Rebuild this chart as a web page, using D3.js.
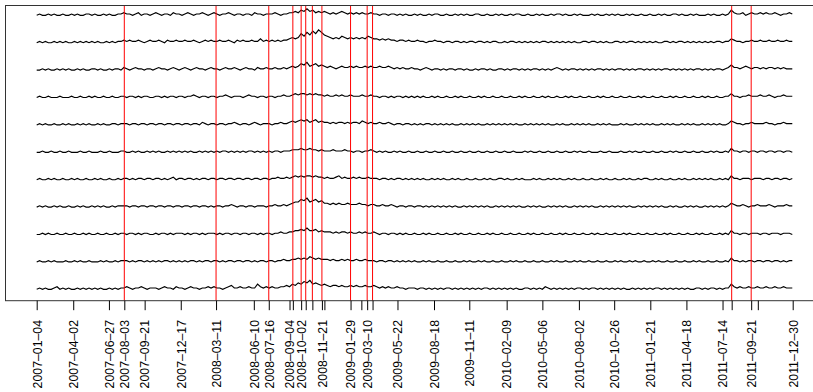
<!DOCTYPE html>
<html>
<head>
<meta charset="utf-8">
<script src="https://cdn.jsdelivr.net/npm/d3@7"></script>
<style>
  body { margin: 0; background: #fff; }
  svg { display: block; font-family: "Liberation Sans", Arial, sans-serif; }
</style>
</head>
<body>
<div id="chart"></div>
<script>
// weekly observations, first and last day of the sample
var startDate = "2007-01-04";
var endDate = "2011-12-30";

// event days (red vertical lines)
var eventDates = ["2007-08-03", "2008-03-11", "2008-07-16", "2008-09-12", "2008-10-02",
  "2008-10-13", "2008-10-29", "2008-11-21", "2009-01-29", "2009-03-10", "2009-03-23",
  "2011-08-05", "2011-09-21"];

// every tick on the axis, and the ones that got a label
var tickDates = ["2007-01-04", "2007-04-02", "2007-06-27", "2007-08-03", "2007-09-21",
  "2007-12-17", "2008-03-11", "2008-06-10", "2008-07-16", "2008-09-04", "2008-09-12",
  "2008-10-02", "2008-10-13", "2008-10-29", "2008-11-21", "2008-11-27", "2009-01-29",
  "2009-02-24", "2009-03-10", "2009-03-23", "2009-05-22", "2009-08-18", "2009-11-11",
  "2010-02-09", "2010-05-06", "2010-08-02", "2010-10-26", "2011-01-21", "2011-04-18",
  "2011-07-14", "2011-08-05", "2011-09-21", "2011-10-07", "2011-12-30"];
var tickLabels = ["2007-01-04", "2007-04-02", "2007-06-27", "2007-08-03", "2007-09-21",
  "2007-12-17", "2008-03-11", "2008-06-10", "2008-07-16", "2008-09-04", "2008-10-02",
  "2008-11-21", "2009-01-29", "2009-03-10", "2009-05-22", "2009-08-18", "2009-11-11",
  "2010-02-09", "2010-05-06", "2010-08-02", "2010-10-26", "2011-01-21", "2011-04-18",
  "2011-07-14", "2011-09-21", "2011-12-30"];

// series, top to bottom (weekly values, arbitrary units)
var s1 = [0,1,0,0,1,0,1,0,0,1, 0,0,1,0,1,0,0,1,1,0, 1,0,0,1,0,1,0,0,1,1, 2,1,1,0,1,2,0,1,1,0,
  1,2,1,0,1,1,0,2,1,1, 0,1,2,1,0,1,1,2,1,0, 1,2,1,0,1,1,2,1,0,1, 1,0,1,1,0,2,1,1,0,1,
  1,1,2,1,0,1,1,2,2,3, 2,4,3,5,3,4,2,3,2,3, 2,1,2,1,2,3,2,1,2,1, 2,1,2,1,1,2,1,1,0,1,
  1,0,1,1,0,1,0,1,0,0, 1,0,1,0,0,1,0,1,1,0, 0,1,0,0,1,0,1,0,1,0, 0,1,1,0,0,1,0,0,1,0,
  1,0,0,1,0,1,1,0,0,1, 0,0,1,0,1,0,0,1,0,1, 1,0,1,0,0,1,0,1,0,0, 0,1,0,1,0,0,1,0,1,0,
  1,0,0,1,0,1,0,0,1,0, 0,1,0,0,1,0,1,0,0,1, 1,0,1,0,0,1,0,1,0,0, 0,1,0,1,0,0,1,0,1,4,
  2,1,1,2,0,1,2,1,1,2, 1,2,1,1,2,1,0,1,1,2, 1];
var s2 = [0,1,0,1,0,0,1,0,1,0, 1,0,0,1,0,1,0,1,0,1, 0,1,0,0,1,0,1,0,1,1, 2,1,2,1,1,2,1,0,1,2,
  1,1,2,1,0,2,1,1,2,1, 1,2,1,1,2,1,0,1,2,1, 2,1,1,2,1,1,2,1,0,2, 1,2,1,1,2,1,1,3,1,2,
  1,2,1,2,1,2,2,3,4,3, 4,7,5,8,6,9,7,10,8,6, 5,4,3,4,3,5,4,3,4,3, 4,3,4,3,5,4,3,3,2,3,
  2,3,2,2,1,2,2,1,2,1, 1,2,1,1,0,1,1,2,1,1, 0,1,1,0,1,1,0,1,0,1, 1,0,1,1,0,1,0,1,1,0,
  0,1,0,1,1,0,1,0,1,0, 1,0,1,0,1,1,0,1,0,1, 0,1,0,1,0,1,0,0,1,1, 0,1,1,0,1,0,1,0,0,1,
  1,0,1,0,1,1,0,1,0,1, 0,1,0,1,0,0,1,1,0,1, 0,1,1,0,1,0,1,0,1,0, 1,0,1,0,1,1,0,1,1,3,
  2,1,1,0,1,1,2,1,1,2, 1,1,2,1,1,2,1,1,2,1, 1];
var s3 = [0,0,1,0,1,0,0,1,0,1, 0,1,0,0,1,0,1,0,0,1, 1,0,1,0,0,1,0,1,1,0, 2,1,0,1,2,1,1,0,1,1,
  0,1,2,1,1,0,1,2,1,0, 1,2,1,0,1,2,1,1,0,1, 2,1,1,0,1,2,1,1,2,1, 0,1,2,1,1,0,2,1,1,2,
  1,1,2,1,1,2,1,2,3,2, 3,5,4,6,3,4,5,3,4,3, 2,3,2,1,2,3,2,2,3,2, 3,2,2,3,2,3,2,2,3,2,
  2,3,2,1,2,1,2,1,1,2, 1,1,0,1,2,1,0,1,1,0, 1,0,1,1,0,1,1,0,1,0, 0,1,0,1,1,0,1,0,0,1,
  1,0,1,0,1,1,0,1,0,1, 0,1,1,0,1,0,1,0,1,2, 1,0,1,0,1,1,0,1,0,1, 0,1,0,1,1,0,1,0,1,0,
  1,1,0,1,0,1,0,1,1,0, 1,0,1,0,1,0,1,1,0,1, 0,1,0,1,0,1,0,1,1,0, 1,0,1,0,1,1,0,1,2,4,
  2,2,1,2,3,2,1,2,2,1, 2,1,2,2,1,2,1,2,1,1, 1];
var s4 = [0,1,0,0,1,0,0,0,1,0, 0,0,1,0,0,1,0,0,1,0, 1,0,0,1,0,0,1,0,0,1, 1,0,1,1,0,1,0,1,1,0,
  0,1,1,0,1,0,1,1,0,1, 1,0,1,1,2,1,0,1,1,0, 1,1,0,1,1,2,1,0,1,1, 1,0,1,2,1,1,0,1,1,0,
  1,1,0,1,1,2,1,1,2,3, 2,3,3,2,3,2,3,2,2,1, 2,1,1,2,1,2,1,1,2,1, 1,1,2,1,1,2,1,1,0,1,
  1,0,1,0,1,1,0,1,0,1, 0,1,0,1,0,0,1,0,1,0, 0,1,0,0,1,0,1,0,0,1, 0,0,1,0,1,0,0,1,0,0,
  1,0,0,1,0,0,1,0,1,0, 0,1,0,0,1,0,1,0,0,1, 0,0,1,0,1,0,0,1,0,0, 1,0,0,1,0,1,0,0,1,0,
  0,1,0,0,1,0,0,1,0,1, 0,0,1,0,0,1,0,0,1,0, 1,0,0,1,0,0,1,0,0,1, 0,1,0,0,1,0,0,1,1,3,
  1,1,0,1,1,2,1,1,1,2, 1,1,2,1,0,1,1,2,1,1, 1];
var s5 = [0,1,0,1,0,0,1,0,0,1, 0,1,0,0,1,0,1,0,1,0, 0,1,0,1,0,0,1,1,0,1, 1,1,0,1,1,0,1,1,0,1,
  1,0,1,1,0,1,1,0,1,1, 0,1,1,0,1,1,0,2,1,0, 1,1,0,1,1,0,1,1,2,1, 0,1,1,0,1,2,1,0,1,1,
  1,0,1,1,2,1,1,2,3,2, 3,4,3,4,2,3,4,2,3,2, 2,1,2,1,2,2,1,2,1,2, 2,1,3,2,1,2,1,1,2,1,
  1,2,1,0,1,1,0,1,1,0, 1,0,1,0,1,1,0,1,0,1, 0,1,0,1,0,0,1,0,1,0, 1,0,1,0,0,1,0,1,0,1,
  0,1,0,1,0,1,0,0,1,0, 1,0,1,0,1,0,1,0,0,1, 0,1,0,0,1,0,1,0,1,0, 1,0,0,1,0,1,0,1,0,0,
  0,1,0,1,0,0,1,0,1,0, 1,0,1,0,0,1,0,1,0,1, 0,0,1,0,1,0,1,0,0,1, 0,1,0,1,0,1,0,0,1,3,
  2,1,1,0,1,1,2,1,1,1, 1,2,1,1,0,1,1,2,1,1, 1];
var s6 = [0,0,1,0,0,1,0,0,1,0, 0,1,0,0,0,1,0,0,1,0, 0,0,1,0,0,1,0,0,0,1, 1,0,0,1,0,1,0,0,1,0,
  1,0,1,0,0,1,0,1,0,1, 0,1,0,1,0,0,1,0,1,0, 1,0,1,0,1,1,0,1,0,1, 0,1,0,1,1,0,1,0,1,0,
  1,0,1,1,0,1,1,1,2,2, 2,3,2,2,3,2,2,1,2,1, 1,1,2,1,1,1,2,1,1,0, 1,1,0,1,1,2,1,0,1,0,
  1,0,0,1,0,1,0,0,1,0, 0,1,0,0,1,0,0,1,0,0, 1,0,0,1,0,0,1,0,0,1, 0,0,1,0,0,1,0,0,1,0,
  0,1,0,0,1,0,0,0,1,0, 1,0,0,1,0,0,1,0,0,1, 0,0,1,0,0,1,0,1,0,0, 1,0,0,0,1,0,0,1,0,0,
  0,1,0,0,1,0,1,0,0,1, 0,0,1,0,0,1,0,0,1,0, 1,0,0,1,0,0,1,0,0,1, 0,0,1,0,1,0,0,1,0,3,
  1,1,0,1,1,0,1,1,0,1, 1,0,1,1,0,1,1,0,1,1, 0];
var s7 = [0,1,0,0,1,0,1,0,0,1, 0,0,1,0,1,0,0,1,0,0, 1,0,1,0,0,1,0,0,1,0, 1,1,0,1,0,1,1,0,1,1,
  0,1,1,0,1,0,1,2,0,1, 1,0,1,1,0,1,0,1,1,0, 1,1,0,1,1,0,1,1,0,1, 1,0,1,1,0,1,1,0,1,1,
  0,1,1,2,1,1,2,1,2,3, 2,3,2,3,3,2,3,2,2,1, 2,1,1,2,3,1,2,1,1,2, 1,2,1,1,2,1,1,1,0,1,
  1,0,1,0,1,1,0,1,0,1, 0,1,0,1,0,0,1,0,1,0, 1,0,0,1,0,1,0,0,1,0, 0,1,0,0,1,0,1,0,0,1,
  1,0,1,0,0,1,0,1,0,0, 0,1,0,1,0,0,1,0,1,0, 1,0,0,1,0,1,0,0,1,0, 0,1,0,0,1,0,1,0,0,1,
  0,0,1,0,1,0,0,1,0,1, 1,0,0,1,0,1,0,0,1,0, 0,1,0,1,0,0,1,0,1,0, 1,0,1,0,0,1,0,1,0,3,
  1,1,0,1,1,1,0,1,1,1, 0,1,1,0,1,1,0,1,1,0, 1];
var s8 = [0,1,0,1,0,0,1,0,1,0, 0,1,0,0,1,0,1,0,0,1, 0,1,0,1,0,0,1,0,1,1, 1,1,0,1,1,0,1,1,0,1,
  1,0,1,1,0,1,1,0,1,1, 0,1,1,0,1,1,0,1,1,0, 1,0,1,1,0,1,1,2,1,0, 1,1,0,1,1,0,1,1,1,0,
  1,1,2,1,1,2,1,2,3,4, 4,6,5,7,4,5,6,4,5,3, 3,2,3,2,3,2,2,3,2,2, 2,3,2,2,1,2,2,1,1,2,
  1,1,2,1,0,1,1,0,1,1, 0,1,1,0,1,0,1,0,1,0, 1,0,1,0,1,0,0,1,0,1, 0,1,0,1,0,1,0,0,1,0,
  1,0,1,0,1,0,1,0,0,1, 0,1,0,1,0,0,1,0,1,0, 1,0,1,0,0,1,0,1,0,1, 0,1,0,0,1,0,1,0,1,0,
  1,0,1,0,1,0,0,1,0,1, 0,1,0,1,0,1,0,0,1,0, 1,0,0,1,0,1,0,1,0,0, 1,0,1,0,1,0,1,0,1,3,
  2,1,1,2,1,0,1,1,2,1, 1,1,2,1,0,1,1,1,2,1, 1];
var s9 = [0,0,1,0,1,0,0,1,0,0, 1,0,0,1,0,0,1,0,1,0, 0,1,0,0,1,0,0,1,0,1, 1,0,1,1,0,1,0,1,1,0,
  0,1,0,1,1,0,1,0,1,1, 1,0,1,0,1,1,0,1,0,1, 1,1,0,1,0,1,1,0,1,1, 0,1,1,0,1,1,0,1,0,1,
  1,0,1,1,2,1,1,2,2,3, 3,4,3,5,3,3,4,2,3,2, 2,2,1,2,1,2,2,1,2,1, 1,2,1,2,1,1,2,1,0,1,
  1,0,1,1,0,1,0,1,0,0, 1,0,0,1,0,1,0,0,1,0, 0,1,0,0,1,0,1,0,0,1, 0,0,1,0,0,1,0,1,0,0,
  1,0,0,1,0,0,1,0,0,1, 0,1,0,0,1,0,0,1,0,0, 1,0,1,0,0,1,0,0,1,0, 0,1,0,1,0,0,1,0,0,1,
  0,0,1,0,1,0,0,1,0,0, 1,0,0,1,0,0,1,0,1,0, 0,1,0,0,1,0,0,1,0,1, 0,0,1,0,0,1,0,1,0,3,
  1,1,0,1,1,0,1,1,1,0, 1,1,0,1,1,1,0,1,1,1, 0];
var s10 = [0,1,0,0,1,0,1,0,0,0, 1,0,0,1,0,1,0,0,1,0, 0,0,1,0,1,0,0,1,0,1, 1,1,0,1,0,1,1,0,1,0,
  1,0,1,0,1,1,0,1,0,1, 0,1,0,1,1,0,1,0,1,1, 0,1,1,0,1,0,1,1,0,1, 1,0,1,1,0,1,0,1,1,0,
  1,1,0,1,1,2,1,1,2,2, 3,2,3,2,4,3,2,3,2,2, 2,1,2,1,1,2,1,2,1,1, 2,1,1,2,1,1,1,0,1,1,
  0,1,1,0,1,0,1,0,1,0, 1,0,0,1,0,1,0,0,1,0, 0,1,0,0,1,0,0,1,0,1, 0,0,1,0,1,0,0,1,0,0,
  1,0,0,1,0,1,0,0,1,0, 0,1,0,0,1,0,0,1,0,1, 0,0,1,0,0,1,0,1,0,0, 1,0,0,1,0,0,1,0,0,1,
  0,1,0,0,1,0,1,0,0,1, 0,0,1,0,1,0,0,1,0,0, 1,0,0,1,0,0,1,0,1,0, 0,1,0,0,1,0,0,1,0,3,
  1,1,0,1,0,1,1,0,1,1, 0,1,1,0,1,1,0,1,0,1, 1];
var s11 = [0,1,0,1,0,0,1,2,0,1, 0,1,0,0,1,0,1,0,1,0, 1,0,1,0,0,1,0,1,0,1, 1,2,1,0,1,1,2,1,0,1,
  1,1,0,1,2,1,1,0,2,1, 1,0,1,2,1,1,0,1,1,2, 1,2,1,1,0,1,2,3,1,1, 2,1,1,2,1,1,4,2,1,2,
  1,2,1,1,2,2,3,2,4,3, 5,4,6,5,7,4,5,4,3,4, 3,2,3,3,2,3,2,2,3,2, 3,2,2,3,2,2,3,2,1,2,
  1,2,1,1,2,1,1,0,1,1, 1,0,1,1,0,1,0,1,0,1, 0,1,1,0,1,0,1,0,1,0, 1,0,1,0,1,1,0,1,0,1,
  0,1,0,1,0,1,0,0,1,1, 0,1,0,1,0,2,1,0,1,0, 1,0,1,0,1,0,1,1,0,1, 0,1,1,0,1,0,1,0,1,0,
  1,0,1,0,0,1,0,1,0,1, 0,1,0,1,1,0,1,0,1,0, 1,0,1,0,1,0,0,1,1,0, 1,0,1,1,0,1,0,1,1,4,
  2,1,2,1,1,2,1,1,2,1, 1,2,1,1,2,1,1,2,1,1, 1];

var series = [s1, s2, s3, s4, s5, s6, s7, s8, s9, s10, s11];

var width = 813, height = 392;
var spike = 0.047; // one unit of a series in the stacking units

var parse = d3.utcParse("%Y-%m-%d");
var dates = d3.utcDay.range(parse(startDate), parse(endDate), 7);

var svg = d3.select("#chart")
  .append("svg")
  .attr("width", width)
  .attr("height", height);

var x = d3.scaleUtc()
  .domain([parse(startDate), parse(endDate)])
  .range([36.7, 792.7]);

var y = d3.scaleLinear()
  .domain([-0.416, 10.358])
  .range([300.7, 5.5]);

var line = d3.line()
  .x(function (d, i) { return x(dates[i]); })
  .y(function (d) { return y(d); });

// stacked series, first one on top
svg.selectAll(".series")
  .data(series)
  .enter()
  .append("path")
  .attr("class", "series")
  .attr("fill", "none")
  .attr("stroke", "#000")
  .attr("stroke-width", 1.15)
  .attr("stroke-linejoin", "miter")
  .attr("d", function (s, k) {
    var off = series.length - 1 - k;
    return line(s.slice(0, dates.length).map(function (v) { return off + v * spike; }));
  });

// events
svg.selectAll(".event")
  .data(eventDates)
  .enter()
  .append("line")
  .attr("class", "event")
  .attr("x1", function (d) { return x(parse(d)); })
  .attr("x2", function (d) { return x(parse(d)); })
  .attr("y1", y.range()[1])
  .attr("y2", y.range()[0])
  .attr("stroke", "#ff0000")
  .attr("stroke-width", 1);

// box, the right side falls outside the page
var x0 = x.invert(5.5), x1 = x.invert(822.9);
svg.append("rect")
  .attr("x", x(x0))
  .attr("y", y.range()[1])
  .attr("width", x(x1) - x(x0))
  .attr("height", y.range()[0] - y.range()[1])
  .attr("fill", "none")
  .attr("stroke", "#333")
  .attr("stroke-width", 1);

// tick marks
var ticks = svg.append("g")
  .attr("transform", "translate(0," + y.range()[0] + ")")
  .call(d3.axisBottom(x).tickValues(tickDates.map(parse)).tickSize(9.5).tickFormat(""));
ticks.select(".domain").remove();
ticks.selectAll("line").attr("stroke", "#000");

// labels, rotated
var labels = svg.append("g")
  .attr("transform", "translate(0," + y.range()[0] + ")")
  .call(d3.axisBottom(x).tickValues(tickLabels.map(parse)).tickSize(0)
    .tickFormat(function (d) { return d3.utcFormat("%Y-%m-%d")(d).replace(/-/g, "\u2013"); }));
labels.select(".domain").remove();
labels.selectAll("text")
  .attr("transform", "rotate(-90)")
  .attr("x", -19.3)
  .attr("y", 0)
  .attr("dy", "0.35em")
  .style("text-anchor", "end")
  .style("font-size", "12.3px")
  .style("font-family", "Liberation Sans, Arial, sans-serif")
  .attr("fill", "#000");
</script>
</body>
</html>
